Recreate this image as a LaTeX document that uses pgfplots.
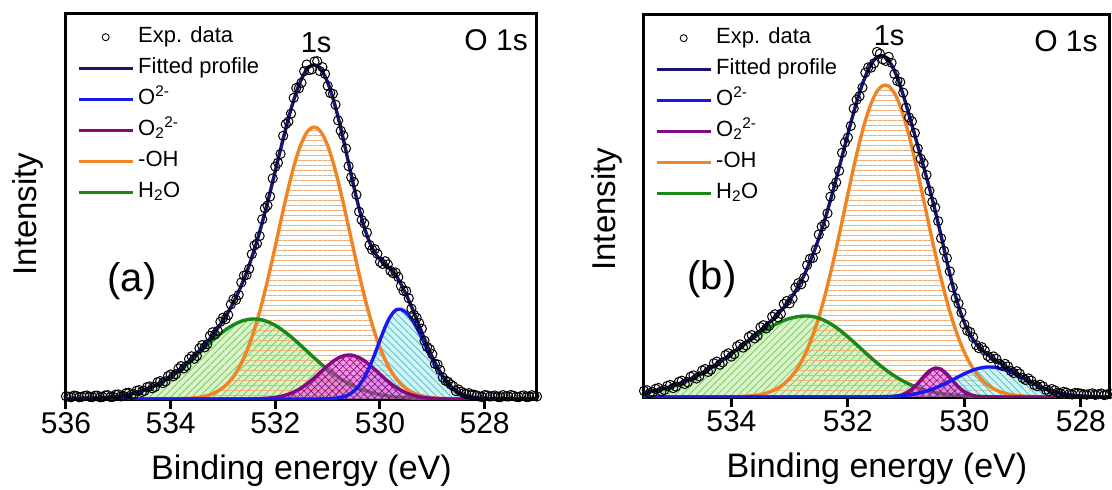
\documentclass[border=0pt]{standalone}
\usepackage{fontspec}
\setmainfont{Liberation Sans}
\usepackage{pgfplots}
\pgfplotsset{compat=1.18}
\usepackage{pgfplotstable}
\usetikzlibrary{patterns.meta}

\definecolor{fitcol}{RGB}{22,22,112}
\definecolor{o2col}{RGB}{25,25,235}
\definecolor{o22col}{RGB}{130,10,130}
\definecolor{ohcol}{RGB}{240,132,36}
\definecolor{h2ocol}{RGB}{24,136,24}
\definecolor{h2ofill}{RGB}{170,232,130}
\definecolor{h2ohatch}{RGB}{110,195,95}
\definecolor{o2fill}{RGB}{150,232,235}
\definecolor{o2hatch}{RGB}{70,185,195}
\definecolor{o22fill}{RGB}{225,60,205}
\definecolor{o22hatch}{RGB}{150,0,150}
\definecolor{ohhatch}{RGB}{240,172,115}

% fitted components of the O 1s envelope, sample (a)
% E  OH  H2O  P = O2^2- (peroxide)  B = O^2- (lattice)  FIT
\pgfplotstableread{
E OH H2O P B FIT
527.0 0 0 0 0 0
527.1 0 0 0 0 0
527.2 0 0 0 0 0
527.3 0 0 0 0 0
527.4 0 0 0 0 0
527.5 0 0 0 0 0
527.6 0 0 0 0 0
527.7 0 0 0 0 0
527.8 0 0 0 0.1 0.1
527.9 0 0 0 0.2 0.2
528.0 0 0 0 0.4 0.4
528.1 0 0 0 0.8 0.8
528.2 0 0 0 1.4 1.4
528.3 0 0 0 2.5 2.5
528.4 0 0 0 4.2 4.2
528.5 0 0 0 6.7 6.7
528.6 0 0 0 10.3 10.3
528.7 0.3 0 0 15.4 15.7
528.8 0.5 0.1 0.2 22.0 22.8
528.9 0.8 0.2 0.4 30.1 31.5
529.0 1.3 0.3 0.7 39.7 42.0
529.1 2.0 0.4 1.1 50.2 53.7
529.2 3.2 0.5 1.8 61.1 66.6
529.3 4.8 0.6 2.8 71.4 79.6
529.4 7.2 0.9 4.2 80.2 92.5
529.5 10.5 1.2 6.2 86.5 104.4
529.6 15.1 1.5 8.7 89.7 115.0
529.7 21.1 2.0 11.9 88.9 123.9
529.8 29.0 2.7 15.7 82.7 130.1
529.9 39.0 3.4 20.0 72.1 134.5
530.0 51.4 4.4 24.8 58.8 139.4
530.1 66.2 5.6 29.6 44.9 146.3
530.2 83.6 7.0 34.2 32.1 156.9
530.3 103.3 8.6 38.3 21.5 171.7
530.4 125.1 10.6 41.4 13.5 190.6
530.5 148.3 12.9 43.4 7.9 212.5
530.6 172.1 15.6 44.0 4.3 236.0
530.7 195.7 18.5 43.1 2.2 259.5
530.8 217.8 21.9 40.9 1.1 281.7
530.9 237.4 25.6 37.5 0.5 301.0
531.0 253.4 29.6 33.3 0.2 316.5
531.1 264.8 33.9 28.6 0.1 327.4
531.2 271.0 38.5 23.8 0 333.3
531.3 271.5 43.2 19.1 0 333.8
531.4 266.5 48.0 14.9 0 329.4
531.5 256.0 52.9 11.2 0 320.1
531.6 240.9 57.6 8.1 0 306.6
531.7 222.0 62.2 5.7 0 289.9
531.8 200.2 66.4 3.9 0 270.5
531.9 176.9 70.2 2.6 0 249.7
532.0 153.0 73.6 1.6 0 228.2
532.1 129.6 76.2 1.0 0 206.8
532.2 107.5 78.3 0.6 0 186.4
532.3 87.3 79.5 0.3 0 167.1
532.4 69.5 80.0 0.2 0 149.7
532.5 54.1 79.7 0 0 133.8
532.6 41.3 78.6 0 0 119.9
532.7 30.8 76.7 0 0 107.5
532.8 22.5 74.1 0 0 96.6
532.9 16.1 71.0 0 0 87.1
533.0 11.3 67.2 0 0 78.5
533.1 7.8 63.1 0 0 70.9
533.2 5.2 58.6 0 0 63.8
533.3 3.4 53.8 0 0 57.2
533.4 2.2 49.0 0 0 51.2
533.5 1.4 44.2 0 0 45.6
533.6 0.9 39.4 0 0 40.3
533.7 0.5 34.8 0 0 35.3
533.8 0.3 30.4 0 0 30.7
533.9 0 26.4 0 0 26.4
534.0 0 22.6 0 0 22.6
534.1 0 19.2 0 0 19.2
534.2 0 16.1 0 0 16.1
534.3 0 13.4 0 0 13.4
534.4 0 11.0 0 0 11.0
534.5 0 9.0 0 0 9.0
534.6 0 7.3 0 0 7.3
534.7 0 5.8 0 0 5.8
534.8 0 4.6 0 0 4.6
534.9 0 3.6 0 0 3.6
535.0 0 2.8 0 0 2.8
535.1 0 2.1 0 0 2.1
535.2 0 1.6 0 0 1.6
535.3 0 1.2 0 0 1.2
535.4 0 0.9 0 0 0.9
535.5 0 0.7 0 0 0.7
535.6 0 0.5 0 0 0.5
535.7 0 0.4 0 0 0.4
535.8 0 0.3 0 0 0.3
535.9 0 0.2 0 0 0.2
536.0 0 0.1 0 0 0.1
}\fitA

% measured spectrum, sample (a)
\pgfplotstableread{
E I
527.0 2.5
527.05 3.0
527.1 3.8
527.15 2.2
527.2 1.9
527.25 3.6
527.3 3.1
527.35 1.8
527.4 2.2
527.45 3.3
527.5 4.0
527.55 2.5
527.6 2.7
527.65 3.9
527.7 1.8
527.75 2.0
527.8 3.5
527.85 2.9
527.9 2.4
527.95 3.6
528.0 3.9
528.05 1.9
528.1 2.6
528.15 3.4
528.2 4.3
528.25 3.8
528.3 5.8
528.35 4.9
528.4 6.1
528.45 7.4
528.5 9.5
528.55 7.9
528.6 12.8
528.65 14.6
528.7 17.2
528.75 18.3
528.8 21.5
528.85 28.9
528.9 34.6
528.95 35.1
529.0 44.8
529.05 49.9
529.1 52.1
529.15 58.3
529.2 70.3
529.25 75.8
529.3 81.2
529.35 84.2
529.4 90.4
529.45 100.7
529.5 107.9
529.55 108.1
529.6 113.1
529.65 121.9
529.7 126.5
529.75 125.8
529.8 128.2
529.85 134.6
529.9 137.8
529.95 135.1
530.0 137.1
530.05 145.2
530.1 149.9
530.15 149.3
530.2 154.0
530.25 166.4
530.3 175.6
530.35 179.0
530.4 187.3
530.45 204.2
530.5 216.9
530.55 221.7
530.6 232.8
530.65 250.5
530.7 263.4
530.75 268.2
530.8 278.6
530.85 294.3
530.9 305.2
530.95 306.0
531.0 313.1
531.05 325.1
531.1 331.9
531.15 328.0
531.2 337.8
531.25 337.5
531.3 329.7
531.35 328.9
531.4 334.5
531.45 327.8
531.5 316.2
531.55 310.6
531.6 311.0
531.65 301.2
531.7 285.4
531.75 277.4
531.8 274.9
531.85 263.2
531.9 245.1
531.95 236.3
532.0 232.4
532.05 220.6
532.1 202.5
532.15 193.5
532.2 190.8
532.25 179.7
532.3 163.0
532.35 155.4
532.4 153.5
532.45 144.8
532.5 130.2
532.55 124.1
532.6 123.4
532.65 116.5
532.7 104.1
532.75 99.2
532.8 99.8
532.85 94.6
532.9 84.0
532.95 79.8
533.0 81.2
533.05 77.2
533.1 68.1
533.15 64.5
533.2 66.7
533.25 63.1
533.3 54.8
533.35 51.6
533.4 53.9
533.45 50.7
533.5 43.1
533.55 40.2
533.6 42.7
533.65 40.0
533.7 33.0
533.75 30.5
533.8 32.9
533.85 30.6
533.9 24.8
533.95 22.7
534.0 24.5
534.05 22.9
534.1 17.6
534.15 15.9
534.2 17.9
534.25 16.8
534.3 12.0
534.35 10.7
534.4 12.6
534.45 11.9
534.5 8.1
534.55 7.0
534.6 8.9
534.65 8.2
534.7 4.9
534.75 4.3
534.8 6.2
534.85 5.9
534.9 3.0
534.95 2.6
535.0 4.6
535.05 4.3
535.1 2.2
535.15 2.0
535.2 3.8
535.25 3.6
535.3 2.0
535.35 1.7
535.4 3.4
535.45 3.3
535.5 1.8
535.55 2.2
535.6 3.5
535.65 3.1
535.7 2.1
535.75 1.8
535.8 3.0
535.85 3.4
535.9 1.7
535.95 2.3
536.0 2.8
}\expA

% fitted components, sample (b)
\pgfplotstableread{
E OH H2O P B FIT
527.5 0 0 0 0.1 0.1
527.6 0 0 0 0.1 0.1
527.7 0 0 0 0.2 0.2
527.8 0 0 0 0.4 0.4
527.9 0 0 0 0.6 0.6
528.0 0 0 0 1.0 1.0
528.1 0 0 0 1.5 1.5
528.2 0 0 0 2.2 2.2
528.3 0 0 0 3.2 3.2
528.4 0 0 0 4.5 4.5
528.5 0 0 0 6.1 6.1
528.6 0 0 0 8.1 8.1
528.7 0 0 0 10.5 10.5
528.8 0.3 0 0 13.2 13.5
528.9 0.6 0 0 16.1 16.7
529.0 0.9 0 0 19.1 20.0
529.1 1.5 0 0 22.1 23.6
529.2 2.3 0 0 24.8 27.1
529.3 3.7 0 0 27.1 30.8
529.4 5.5 0.1 0 28.8 34.4
529.5 8.3 0.2 0 29.8 38.3
529.6 12.0 0.3 0.1 30.0 42.4
529.7 17.3 0.4 0.3 29.3 47.3
529.8 24.2 0.5 0.9 27.9 53.5
529.9 33.3 0.8 2.4 25.8 62.3
530.0 44.7 1.1 5.3 23.2 74.3
530.1 59.0 1.4 10.0 20.3 90.7
530.2 75.9 2.0 16.2 17.3 111.4
530.3 95.9 2.6 22.8 14.3 135.6
530.4 118.5 3.5 27.7 11.5 161.2
530.5 143.5 4.5 28.9 9.0 185.9
530.6 170.1 5.8 26.1 6.9 208.9
530.7 197.4 7.4 20.3 5.1 230.2
530.8 224.5 9.4 13.6 3.7 251.2
530.9 249.8 11.7 7.9 2.6 272.0
531.0 272.3 14.4 3.9 1.8 292.4
531.1 290.7 17.5 1.7 1.2 311.1
531.2 303.8 21.1 0.6 0.7 326.2
531.3 310.9 25.0 0.2 0.5 336.6
531.4 311.4 29.4 0 0.3 341.1
531.5 305.7 34.1 0 0.2 340.0
531.6 293.7 39.1 0 0.1 332.9
531.7 276.3 44.3 0 0 320.6
531.8 254.7 49.7 0 0 304.4
531.9 229.7 55.0 0 0 284.7
532.0 202.9 60.1 0 0 263.0
532.1 175.5 65.0 0 0 240.5
532.2 148.7 69.5 0 0 218.2
532.3 123.3 73.3 0 0 196.6
532.4 100.1 76.5 0 0 176.6
532.5 79.7 78.9 0 0 158.6
532.6 62.1 80.4 0 0 142.5
532.7 47.4 81.0 0 0 128.4
532.8 35.3 80.8 0 0 116.1
532.9 25.8 79.9 0 0 105.7
533.0 18.5 78.5 0 0 97.0
533.1 13.0 76.5 0 0 89.5
533.2 8.9 74.0 0 0 82.9
533.3 6.0 71.0 0 0 77.0
533.4 3.9 67.7 0 0 71.6
533.5 2.5 64.0 0 0 66.5
533.6 1.6 60.0 0 0 61.6
533.7 1.0 55.9 0 0 56.9
533.8 0.6 51.7 0 0 52.3
533.9 0.3 47.4 0 0 47.7
534.0 0 43.2 0 0 43.2
534.1 0 39.0 0 0 39.0
534.2 0 35.0 0 0 35.0
534.3 0 31.1 0 0 31.1
534.4 0 27.5 0 0 27.5
534.5 0 24.1 0 0 24.1
534.6 0 21.0 0 0 21.0
534.7 0 18.1 0 0 18.1
534.8 0 15.5 0 0 15.5
534.9 0 13.2 0 0 13.2
535.0 0 11.2 0 0 11.2
535.1 0 9.3 0 0 9.3
535.2 0 7.8 0 0 7.8
535.3 0 6.4 0 0 6.4
535.4 0 5.3 0 0 5.3
535.5 0 4.3 0 0 4.3
}\fitB

% measured spectrum, sample (b)
\pgfplotstableread{
E I
527.5 3.2
527.55 2.6
527.6 1.9
527.65 3.5
527.7 2.8
527.75 2.1
527.8 3.7
527.85 3.1
527.9 2.3
527.95 2.7
528.0 3.4
528.05 3.9
528.1 4.1
528.15 2.5
528.2 3.0
528.25 4.4
528.3 5.2
528.35 3.6
528.4 4.3
528.45 6.7
528.5 8.0
528.55 6.0
528.6 7.2
528.65 10.6
528.7 12.3
528.75 10.8
528.8 12.1
528.85 16.3
528.9 18.6
528.95 17.0
529.0 19.0
529.05 23.4
529.1 25.8
529.15 24.0
529.2 26.0
529.25 30.6
529.3 33.1
529.35 31.1
529.4 33.2
529.45 38.1
529.5 40.6
529.55 38.9
529.6 41.0
529.65 46.5
529.7 49.8
529.75 48.8
529.8 52.0
529.85 59.7
529.9 64.9
529.95 66.3
530.0 72.6
530.05 84.6
530.1 93.4
530.15 98.9
530.2 109.5
530.25 125.6
530.3 138.8
530.35 146.2
530.4 158.7
530.45 175.9
530.5 189.4
530.55 195.1
530.6 206.1
530.65 222.0
530.7 233.6
530.75 238.3
530.8 248.5
530.85 264.0
530.9 275.7
530.95 279.5
531.0 289.4
531.05 304.3
531.1 314.9
531.15 316.0
531.2 323.0
531.25 334.2
531.3 340.2
531.35 336.1
531.4 337.6
531.45 343.3
531.5 345.1
531.55 333.7
531.6 329.4
531.65 329.6
531.7 324.3
531.75 309.4
531.8 300.8
531.85 297.3
531.9 288.5
531.95 271.0
532.0 259.4
532.05 254.5
532.1 244.2
532.15 226.2
532.2 214.6
532.25 210.1
532.3 200.3
532.35 183.7
532.4 173.0
532.45 170.3
532.5 162.4
532.55 147.6
532.6 139.1
532.65 138.2
532.7 131.9
532.75 119.3
532.8 112.7
532.85 113.8
532.9 109.3
532.95 98.4
533.0 93.6
533.05 96.0
533.1 93.0
533.15 83.2
533.2 79.7
533.25 82.7
533.3 80.4
533.35 71.2
533.4 68.5
533.45 71.8
533.5 69.8
533.55 61.0
533.6 58.6
533.65 61.9
533.7 60.1
533.75 51.7
533.8 49.4
533.85 52.6
533.9 50.8
533.95 42.8
534.0 40.4
534.05 43.7
534.1 41.9
534.15 34.6
534.2 32.3
534.25 35.4
534.3 33.7
534.35 27.3
534.4 25.0
534.45 28.0
534.5 26.5
534.55 20.6
534.6 18.5
534.65 21.6
534.7 20.3
534.75 14.8
534.8 13.0
534.85 16.3
534.9 15.2
534.95 10.4
535.0 8.9
535.05 12.1
535.1 11.1
535.15 7.0
535.2 5.8
535.25 9.0
535.3 8.2
535.35 4.8
535.4 3.9
535.45 6.8
535.5 6.1
}\expB

\pgfplotsset{
  xpspanel/.style={
    scale only axis, anchor=south west,
    x dir=reverse,
    axis line style={line width=3pt},
    ytick=\empty,
    xtick pos=bottom,
    tick align=outside,
    major tick length=9pt,
    every tick/.style={black, line width=3pt},
    tick label style={font=\fontsize{30}{30}\selectfont},
    /pgf/number format/assume math mode=true,
    xlabel={Binding energy (eV)},
    ylabel={Intensity},
    every axis x label/.style={at={(axis description cs:0.5,0)}, anchor=base,
      yshift=-80pt, font=\fontsize{34}{34}\selectfont},
    legend image code/.code={\draw[##1, line width=3pt] (0pt,0pt) -- (54pt,0pt);},
    legend style={draw=none, fill=none, at={(axis description cs:0,1)},
      anchor=north west, xshift=11pt, yshift=-11pt, inner sep=0pt,
      row sep=7pt, column sep=0pt, font=\fontsize{22}{22}\selectfont,
      nodes={inner xsep=4pt, inner ysep=1pt, text height=16pt, text depth=6pt}},
    legend cell align=left,
  },
  exp legend/.style={legend image code/.code={\draw[##1] plot coordinates {(27pt,0pt)};}},
  comp/.style={forget plot, smooth, line width=3.4pt},
  h2o area/.style={forget plot, smooth, draw=none, fill=h2ofill, fill opacity=0.45,
    postaction={fill opacity=1, pattern={Lines[angle=45,distance=5pt,line width=0.7pt]}, pattern color=h2ohatch}},
  oh area/.style={forget plot, smooth, draw=none,
    pattern={Lines[angle=0,distance=5pt,line width=0.8pt]}, pattern color=ohhatch},
  o2 area/.style={forget plot, smooth, draw=none, fill=o2fill, fill opacity=0.45,
    postaction={fill opacity=1, pattern={Lines[angle=-45,distance=5pt,line width=0.7pt]}, pattern color=o2hatch}},
  o22 area/.style={forget plot, smooth, draw=none, fill=o22fill, fill opacity=0.5,
    postaction={fill opacity=1, pattern={Hatch[angle=45,distance=5pt,line width=0.6pt]}, pattern color=o22hatch}},
  expdata/.style={forget plot, only marks, mark=o, mark size=4.6pt, black,
    mark options={line width=1pt}},
}

\newcommand{\xpslegend}{%
  \addlegendimage{only marks, mark=o, mark size=3.5pt, black, mark options={line width=0.9pt}, exp legend}
  \addlegendentry{Exp. data}
  \addlegendimage{fitcol}\addlegendentry{Fitted profile}
  \addlegendimage{o2col}\addlegendentry{O\textsuperscript{2-}}
  \addlegendimage{o22col}\addlegendentry{O\textsubscript{2}\textsuperscript{2-}}
  \addlegendimage{ohcol}\addlegendentry{-OH}
  \addlegendimage{h2ocol}\addlegendentry{H\textsubscript{2}O}
}

% hatched areas first, then the component outlines, data and envelope
\newcommand{\drawspectrum}[2]{%
  \addplot[h2o area] table[x=E,y=H2O]{#1} \closedcycle;
  \addplot[oh area] table[x=E,y=OH]{#1} \closedcycle;
  \addplot[o2 area] table[x=E,y=B]{#1} \closedcycle;
  \addplot[comp, ohcol] table[x=E,y=OH]{#1};
  \addplot[comp, h2ocol] table[x=E,y=H2O]{#1};
  \addplot[o22 area] table[x=E,y=P]{#1} \closedcycle;
  \addplot[comp, o22col] table[x=E,y=P]{#1};
  \addplot[comp, o2col] table[x=E,y=B]{#1};
  \addplot[expdata] table[x=E,y=I]{#2};
  \addplot[comp, fitcol] table[x=E,y=FIT]{#1};
}

\begin{document}
\begin{tikzpicture}
\useasboundingbox (0,0) rectangle (1112pt,490pt);

\begin{axis}[xpspanel, at={(66pt,90pt)}, width=471pt, height=386pt,
  xmin=527, xmax=536, ymin=-1, ymax=385, xtick={528,530,...,536},
  every axis y label/.style={at={(axis description cs:-0.0616,0.482)}, rotate=90,
    anchor=base, font=\fontsize{33}{33}\selectfont}]
  \xpslegend
  \drawspectrum{\fitA}{\expA}
  \node[font=\fontsize{29}{29}\selectfont, inner sep=0pt] at (axis description cs:0.531,0.927) {1s};
  \node[font=\fontsize{30}{30}\selectfont, inner sep=0pt, anchor=east] at (axis description cs:0.981,0.933) {O 1s};
  \node[font=\fontsize{40}{40}\selectfont, inner sep=0pt] at (axis description cs:0.140,0.308) {(a)};
\end{axis}

\begin{axis}[xpspanel, at={(644pt,92pt)}, width=466pt, height=383pt,
  xmin=527.5, xmax=535.5, ymin=-1, ymax=382, xtick={528,530,...,534},
  every axis y label/.style={at={(axis description cs:-0.0622,0.493)}, rotate=90,
    anchor=base, font=\fontsize{33}{33}\selectfont}]
  \xpslegend
  \drawspectrum{\fitB}{\expB}
  \node[font=\fontsize{29}{29}\selectfont, inner sep=0pt] at (axis description cs:0.526,0.945) {1s};
  \node[font=\fontsize{30}{30}\selectfont, inner sep=0pt, anchor=east] at (axis description cs:0.974,0.932) {O 1s};
  \node[font=\fontsize{40}{40}\selectfont, inner sep=0pt] at (axis description cs:0.146,0.311) {(b)};
\end{axis}
\end{tikzpicture}
\end{document}
